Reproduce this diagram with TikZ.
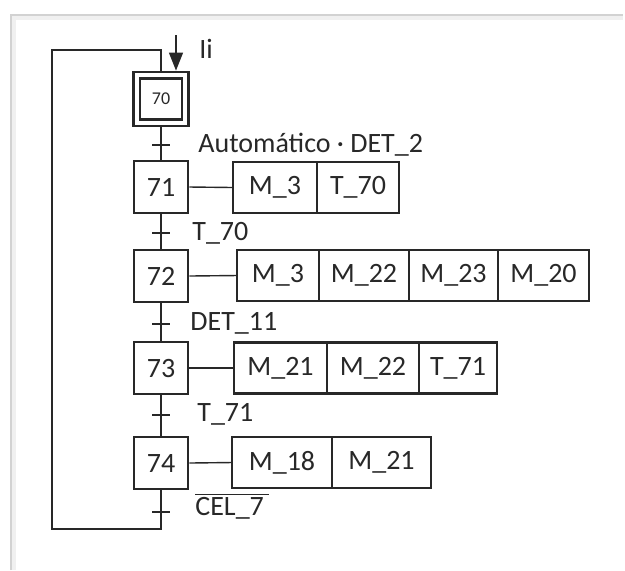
\documentclass[tikz,border=0pt]{standalone}
\usepackage{fontspec}
\setmainfont{Carlito}
\usetikzlibrary{arrows.meta}
\definecolor{trazo}{RGB}{40,40,40}
\tikzset{
  etapa/.style={draw=trazo,line width=1.4pt,minimum width=27pt,minimum height=26pt,
                inner sep=0pt,font=\fontsize{14}{16}\selectfont,text=trazo},
  accion/.style={draw=trazo,line width=1.3pt,minimum height=25.5pt,inner sep=0pt,outer sep=0pt,
                 anchor=west,font=\fontsize{14}{16}\selectfont,text=trazo},
  enlace/.style={draw=trazo,line width=0.7pt},
  receptividad/.style={anchor=west,inner sep=0pt,font=\fontsize{14}{16}\selectfont,text=trazo}
}

\begin{document}
\begin{tikzpicture}[x=0.5pt,y=-0.5pt,>={Triangle[length=9pt,width=7pt]}]
  \useasboundingbox (0,0) rectangle (625,570);
  % marco de la captura
  \draw[gray!12,line width=3pt] (13,570) -- (13,17) -- (623,17);
  \draw[gray!35,line width=0.8pt] (11,570) -- (11,15) -- (623,15);
  % etapa inicial
  \node[etapa,minimum width=27.5pt,minimum height=27pt] (s70) at (161,99) {};
  \node[etapa,minimum width=21pt,minimum height=20.5pt,font=\fontsize{9}{10}\selectfont] (s70i) at (s70) {70};
  % etapas
  \node[etapa] (s71) at (161,187) {71};
  \node[etapa] (s72) at (161,276) {72};
  \node[etapa] (s73) at (161,368) {73};
  \node[etapa] (s74) at (161,463) {74};
  % acciones 71
  \node[accion,minimum width=42pt] (a71a) at (233,187.5) {M\_3};
  \node[accion,minimum width=41pt] (a71b) at (a71a.east) {T\_70};
  % acciones 72
  \node[accion,minimum width=41pt] (a72a) at (237,275.5) {M\_3};
  \node[accion,minimum width=45pt] (a72b) at (a72a.east) {M\_22};
  \node[accion,minimum width=44.5pt] (a72c) at (a72b.east) {M\_23};
  \node[accion,minimum width=45.5pt] (a72d) at (a72c.east) {M\_20};
  % acciones 73
  \node[accion,minimum width=46.5pt] (a73a) at (234,368) {M\_21};
  \node[accion,minimum width=46pt] (a73b) at (a73a.east) {M\_22};
  \node[accion,minimum width=39pt] (a73c) at (a73b.east) {T\_71};
  % acciones 74
  \node[accion,minimum width=50pt] (a74a) at (232,462.5) {M\_18};
  \node[accion,minimum width=49.5pt] (a74b) at (a74a.east) {M\_21};
  % enlaces etapa-accion
  \foreach \e in {71,72,73,74}
    \draw[enlace] (s\e.east) -- (a\e a.west);
  % enlaces entre etapas
  \draw[enlace] (s70.south) -- (s71.north);
  \draw[enlace] (s71.south) -- (s72.north);
  \draw[enlace] (s72.south) -- (s73.north);
  \draw[enlace] (s73.south) -- (s74.north);
  % transiciones
  \coordinate (t1) at (161,145);
  \coordinate (t2) at (161,233);
  \coordinate (t3) at (161,324);
  \coordinate (t4) at (161,415);
  \coordinate (t5) at (161,512);
  \foreach \t in {t1,t2,t3,t4,t5}
    \draw[enlace] (\t) ++(-9,0) -- ++(18,0);
  \node[receptividad] (r1) at (198,145) {Automático · DET\_2};
  \node[receptividad] (r2) at (192,233) {T\_70};
  \node[receptividad] (r3) at (190,323) {DET\_11};
  \node[receptividad] (r4) at (197,414) {T\_71};
  \node[receptividad] (r5) at (195,506) {$\overline{\mbox{CEL\_7\,}}$};
  % retorno a la etapa inicial
  \coordinate (bucleA) at (161,529);
  \coordinate (bucleB) at (52,529);
  \coordinate (bucleC) at (52,50);
  \draw[enlace] (s74.south) -- (bucleA) -- (bucleB) -- (bucleC) -| (s70.north);
  % inicializacion
  \coordinate (ini) at (176,35);
  \draw[enlace,->] (ini) -- (ini |- s70.north);
  \node[receptividad] (li) at (199,49) {Ii};
\end{tikzpicture}
\end{document}
